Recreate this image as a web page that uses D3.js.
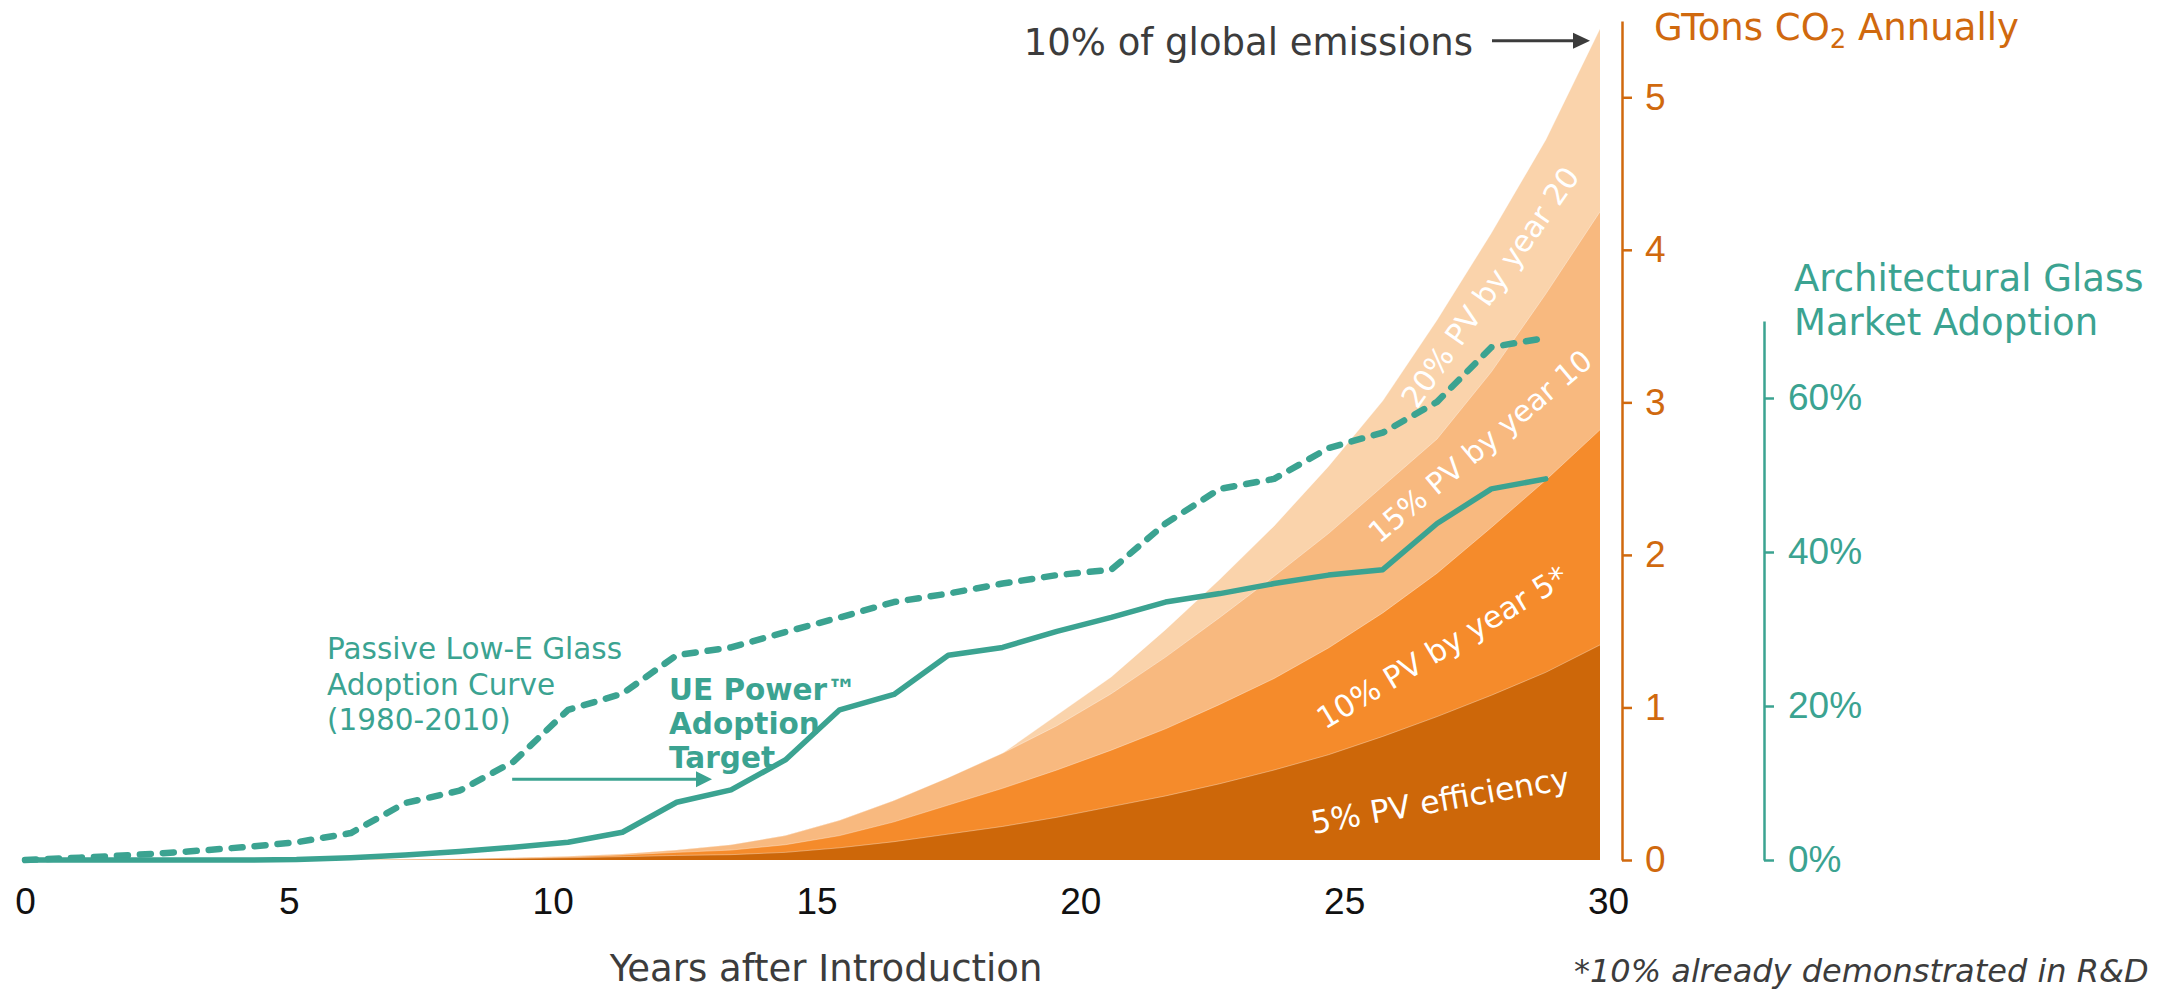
<!DOCTYPE html>
<html>
<head>
<meta charset="utf-8">
<script src="https://cdn.jsdelivr.net/npm/d3@7"></script>
<style>
  html, body { margin: 0; padding: 0; background: #fff; }
  svg { display: block; font-family: "DejaVu Sans", Verdana, sans-serif; }
</style>
</head>
<body>
<div id="chart"></div>
<script>
// --- data ---
const xTicks = [0, 5, 10, 15, 20, 25, 30];
const gtTicks = [0, 1, 2, 3, 4, 5];
const pctTicks = [0, 20, 40, 60];

// one point per year index (0..29), GTons CO2 annually, each scenario total
const pv5  = [0,0,0,0,0,0,0,0.002,0.005,0.01,0.015,0.022,0.03,0.035,0.05,0.08,0.12,0.17,0.22,0.28,0.35,0.42,0.50,0.59,0.69,0.81,0.94,1.08,1.23,1.41];
const pv10 = [0,0,0,0,0,0,0,0.003,0.007,0.013,0.02,0.033,0.05,0.065,0.10,0.16,0.25,0.36,0.47,0.59,0.72,0.86,1.02,1.19,1.39,1.62,1.88,2.18,2.49,2.82];
const pv15 = [0,0,0,0,0,0,0,0.004,0.008,0.015,0.025,0.04,0.065,0.10,0.16,0.26,0.39,0.54,0.70,0.88,1.09,1.33,1.59,1.86,2.14,2.45,2.76,3.20,3.71,4.25];
const pv20 = [0,0,0,0,0,0,0,0.004,0.008,0.015,0.025,0.04,0.065,0.10,0.16,0.26,0.39,0.54,0.70,0.95,1.20,1.51,1.84,2.19,2.58,3.01,3.54,4.11,4.72,5.45];

// adoption, % of architectural glass market (year index 0..28)
const lowE    = [0,0.3,0.65,1.1,1.65,2.3,3.5,7.4,9.0,12.8,19.5,21.6,26.6,27.6,29.6,31.5,33.5,34.6,35.9,37.0,37.7,43.7,48.2,49.5,53.5,55.5,59.5,66.6,67.8];
const uePower = [0,0,0,0,0,0.05,0.3,0.65,1.1,1.65,2.3,3.6,7.5,9.1,13.0,19.5,21.5,26.6,27.6,29.7,31.5,33.5,34.6,35.9,37.0,37.7,43.7,48.2,49.5];

const bandNames  = ["20% PV by year 20", "15% PV by year 10", "10% PV by year 5*", "5% PV efficiency"];
const bandColors = ["#fad3ab", "#f8b97f", "#f58b2b", "#cd6709"];

const ORANGE = "#d0690e";
const TEAL = "#3ba391";
const GREY = "#3c3c3c";

function drawChart() {
    const width = 2168, height = 991;
    d3.select("#chart").selectAll("*").remove();

    const svg = d3.select("#chart").append("svg")
        .attr("width", width)
        .attr("height", height);

    const xAxisScale = d3.scaleLinear().domain([0, 30]).range([25, 1608]);
    const x = d3.scaleLinear().domain([0, 29]).range([25, 1600]);
    const yG = d3.scaleLinear().domain([0, 5.5]).range([860, 21]);
    const yA = d3.scaleLinear().domain([0, 70]).range([860, 321]);

    // scenario areas, biggest in the back
    const series = [pv20, pv15, pv10, pv5];
    const area = d3.area()
        .x((d, i) => x(i))
        .y0(yG(0))
        .y1(d => yG(d));
    const topLine = d3.line().x((d, i) => x(i)).y(d => yG(d));

    series.forEach((s, i) => {
        svg.append("path")
            .datum(s)
            .attr("fill", bandColors[i])
            .attr("d", area);
        svg.append("path")
            .datum(s)
            .attr("fill", "none")
            .attr("stroke", "rgba(255,255,255,0.35)")
            .attr("stroke-width", 1)
            .attr("d", topLine);
    });

    // adoption lines
    const line = d3.line().x((d, i) => x(i)).y(d => yA(d));

    svg.append("path")
        .datum(lowE)
        .attr("fill", "none")
        .attr("stroke", TEAL)
        .attr("stroke-width", 6.5)
        .attr("stroke-dasharray", "11,12")
        .attr("stroke-linecap", "round")
        .attr("stroke-linejoin", "round")
        .attr("d", line);

    svg.append("path")
        .datum(uePower)
        .attr("fill", "none")
        .attr("stroke", TEAL)
        .attr("stroke-width", 5.5)
        .attr("stroke-linejoin", "round")
        .attr("stroke-linecap", "round")
        .attr("d", line);

    // band labels
    const bandLabels = [
        {t: bandNames[0], cx: 1490, cy: 287, rot: -55, size: 30},
        {t: bandNames[1], cx: 1480, cy: 446, rot: -40, size: 29.5},
        {t: bandNames[2], cx: 1442, cy: 647, rot: -31, size: 30.5},
        {t: bandNames[3], cx: 1440, cy: 800, rot: -10, size: 31.5}
    ];
    bandLabels.forEach(b => {
        svg.append("text")
            .attr("transform", `translate(${b.cx},${b.cy}) rotate(${b.rot})`)
            .attr("text-anchor", "middle")
            .attr("dy", "0.36em")
            .attr("fill", "#fff")
            .attr("font-size", b.size)
            .text(b.t);
    });

    // x axis (labels only)
    const gx = svg.append("g")
        .attr("transform", `translate(0,${yG(0)})`)
        .call(d3.axisBottom(xAxisScale).tickValues(xTicks).tickSize(0).tickPadding(28));
    gx.select(".domain").remove();
    gx.selectAll("text").attr("font-size", 37).attr("fill", "#111").attr("font-family", null);

    svg.append("text")
        .attr("x", 826).attr("y", 981)
        .attr("text-anchor", "middle")
        .attr("font-size", 37)
        .attr("fill", GREY)
        .text("Years after Introduction");

    // GTons axis
    const gy = svg.append("g")
        .attr("transform", "translate(1622,0)")
        .call(d3.axisRight(yG).tickValues(gtTicks).tickFormat(d3.format("d"))
            .tickSize(10).tickSizeOuter(0).tickPadding(13));
    gy.selectAll("path, line").attr("stroke", ORANGE).attr("stroke-width", 2.5);
    gy.selectAll("text").attr("font-size", 37).attr("fill", ORANGE).attr("font-family", null);

    const gt = svg.append("text")
        .attr("x", 1654).attr("y", 40)
        .attr("font-size", 37)
        .attr("fill", ORANGE);
    gt.append("tspan").text("GTons CO");
    gt.append("tspan").attr("font-size", 26).attr("dy", 8).text("2");
    gt.append("tspan").attr("dy", -8).text(" Annually");

    // adoption axis
    const ga = svg.append("g")
        .attr("transform", "translate(1764,0)")
        .call(d3.axisRight(yA).tickValues(pctTicks).tickFormat(d => d + "%")
            .tickSize(10).tickSizeOuter(0).tickPadding(14));
    ga.selectAll("path, line").attr("stroke", TEAL).attr("stroke-width", 2.5);
    ga.selectAll("text").attr("font-size", 37).attr("fill", TEAL).attr("font-family", null);

    svg.append("text")
        .attr("x", 1794).attr("y", 291)
        .attr("font-size", 37).attr("fill", TEAL)
        .text("Architectural Glass");
    svg.append("text")
        .attr("x", 1794).attr("y", 335)
        .attr("font-size", 37).attr("fill", TEAL)
        .text("Market Adoption");

    // 10% of global emissions arrow
    const emY = yG(5.37);
    svg.append("text")
        .attr("x", 1473).attr("y", emY + 14)
        .attr("text-anchor", "end")
        .attr("font-size", 37)
        .attr("fill", GREY)
        .text("10% of global emissions");
    svg.append("line")
        .attr("x1", 1492).attr("x2", x(29) - 24)
        .attr("y1", emY).attr("y2", emY)
        .attr("stroke", GREY).attr("stroke-width", 3);
    svg.append("path")
        .attr("d", `M${x(29) - 10},${emY} l-17,-8 v16 z`)
        .attr("fill", GREY);

    // passive low-e annotation
    const passive = ["Passive Low-E Glass", "Adoption Curve", "(1980-2010)"];
    passive.forEach((t, i) => {
        svg.append("text")
            .attr("x", 327).attr("y", 659 + i * 35.5)
            .attr("font-size", 29.5)
            .attr("fill", TEAL)
            .text(t);
    });

    const ue = ["UE Power\u2122", "Adoption", "Target"];
    ue.forEach((t, i) => {
        svg.append("text")
            .attr("x", 669).attr("y", 700 + i * 34)
            .attr("font-size", 29.5)
            .attr("font-weight", "bold")
            .attr("fill", TEAL)
            .text(t);
    });

    // 5-year shift arrow
    const arY = yA(10.5);
    svg.append("line")
        .attr("x1", x(8.97)).attr("x2", x(12.4))
        .attr("y1", arY).attr("y2", arY)
        .attr("stroke", TEAL).attr("stroke-width", 3);
    svg.append("path")
        .attr("d", `M${x(12.65)},${arY} l-16,-8 v16 z`)
        .attr("fill", TEAL);

    // footnote, bottom right
    svg.append("text")
        .attr("x", 1574).attr("y", 982)
        .attr("font-size", 32)
        .attr("font-style", "italic")
        .attr("fill", GREY)
        .text("*10% already demonstrated in R&D");
}

drawChart();
</script>
</body>
</html>
